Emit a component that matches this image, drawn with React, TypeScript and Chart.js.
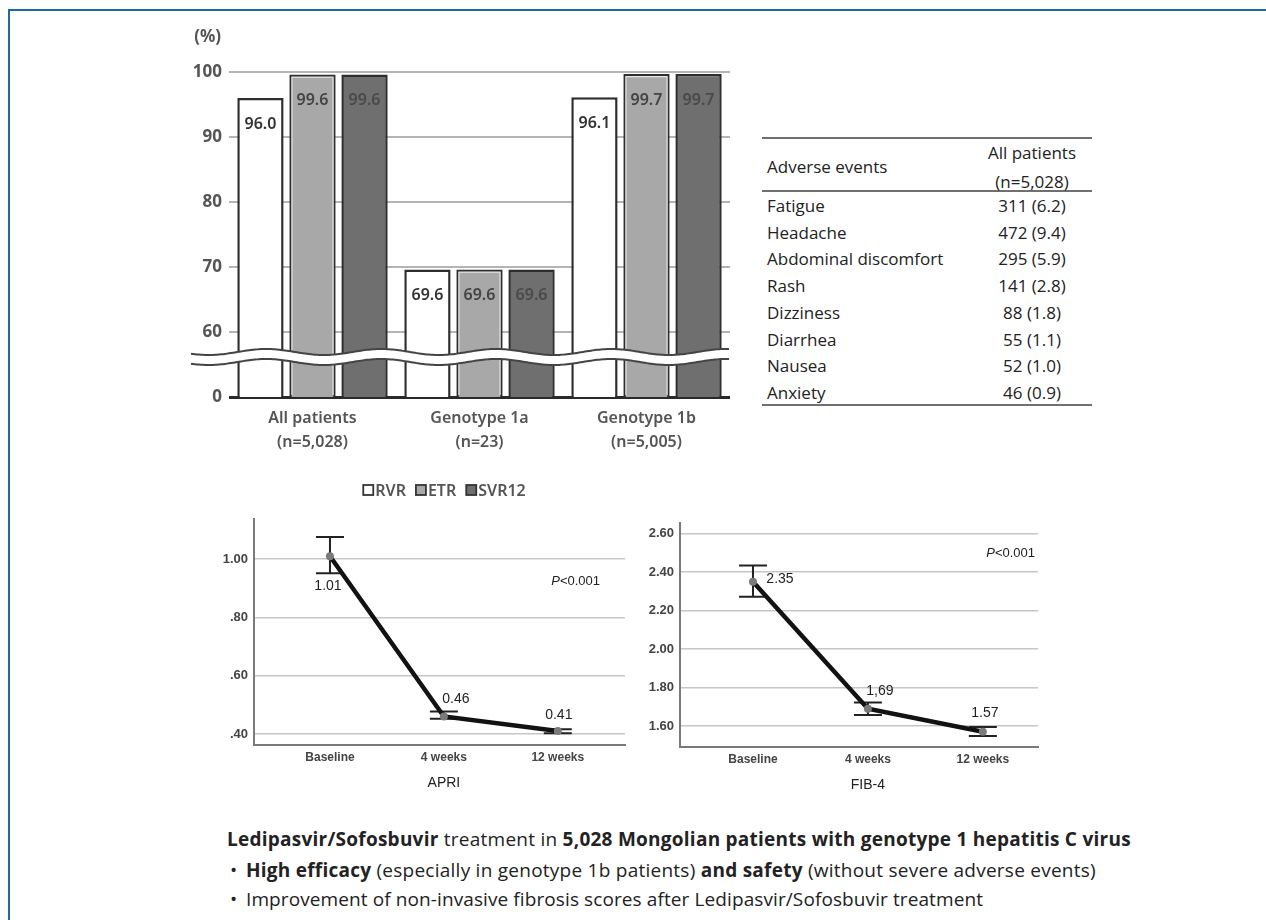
import React, { useEffect, useRef } from "react";
import { Chart, registerables } from "chart.js";
Chart.register(...registerables);

// ---------- data ----------
const groups = [["All patients", "(n=5,028)"], ["Genotype 1a", "(n=23)"], ["Genotype 1b", "(n=5,005)"]];
const seriesNames = ["RVR", "ETR", "SVR12"];
const rvr = [96.0, 69.6, 96.1];
const etr = [99.6, 69.6, 99.7];
const svr12 = [99.6, 69.6, 99.7];
const barTickValues = [50, 60, 70, 80, 90, 100];
const barTickLabels = ["0", "60", "70", "80", "90", "100"];

const aeNames = ["Fatigue", "Headache", "Abdominal discomfort", "Rash", "Dizziness", "Diarrhea", "Nausea", "Anxiety"];
const aeValues = ["311 (6.2)", "472 (9.4)", "295 (5.9)", "141 (2.8)", "88 (1.8)", "55 (1.1)", "52 (1.0)", "46 (0.9)"];

const timepoints = ["Baseline", "4 weeks", "12 weeks"];
const apriMean = [1.01, 0.46, 0.41];
const apriLow = [0.952, 0.452, 0.402];
const apriHigh = [1.076, 0.477, 0.416];
const apriLabels = ["1.01", "0.46", "0.41"];
const apriTicks = [0.4, 0.6, 0.8, 1.0];
const apriTickLabels = [".40", ".60", ".80", "1.00"];

const fibMean = [2.35, 1.69, 1.57];
const fibLow = [2.272, 1.657, 1.548];
const fibHigh = [2.435, 1.723, 1.595];
const fibLabels = ["2.35", "1,69", "1.57"];
const fibTicks = [1.6, 1.8, 2.0, 2.2, 2.4, 2.6];
const fibTickLabels = ["1.60", "1.80", "2.00", "2.20", "2.40", "2.60"];

// ---------- styles ----------
const BAR_FONT = "'Noto Sans', sans-serif";
const LINE_FONT = "'Liberation Sans', Arial, sans-serif";
const TEXT_FONT = "'Open Sans', sans-serif";
const barFills = ["#ffffff", "#a8a8a8", "#6f6f6f"];
const barLabelColors = ["#333333", "#444444", "#4a4a4a"];

const barPlugin = {
  id: "barExtras",
  afterDatasetsDraw(chart: any) {
    const { ctx, chartArea, scales } = chart;
    const y = scales.y;
    const basePx = y.getPixelForValue(50);
    // inner light line on ETR bars
    ctx.save();
    const etrMeta = chart.getDatasetMeta(1);
    ctx.strokeStyle = "#e6e6e6";
    ctx.lineWidth = 1.2;
    etrMeta.data.forEach((el: any) => {
      const w = el.width;
      const left = el.x - w / 2 + 2.6;
      const right = el.x + w / 2 - 2.6;
      const top = el.y + 2.6;
      const bottom = basePx - 2;
      ctx.beginPath();
      ctx.moveTo(left, bottom);
      ctx.lineTo(left, top);
      ctx.lineTo(right, top);
      ctx.lineTo(right, bottom);
      ctx.stroke();
    });
    ctx.restore();
    // axis break
    const y60 = y.getPixelForValue(60);
    const up = y60 + 20;
    const lo = y60 + 30;
    const x0 = chartArea.left - 38;
    const x1 = chartArea.right;
    const W = 115;
    const f = (x: number) => 3 * Math.sin(((x - x0) / W) * 2 * Math.PI + 0.6);
    ctx.save();
    ctx.beginPath();
    for (let x = x0; x <= x1; x += 2) ctx.lineTo(x, up + f(x));
    for (let x = x1; x >= x0; x -= 2) ctx.lineTo(x, lo + f(x));
    ctx.closePath();
    ctx.fillStyle = "#ffffff";
    ctx.fill();
    ctx.strokeStyle = "#444";
    ctx.lineWidth = 2;
    [up, lo].forEach((b) => {
      ctx.beginPath();
      for (let x = x0; x <= x1; x += 2) ctx.lineTo(x, b + f(x));
      ctx.stroke();
    });
    // value labels
    ctx.font = `600 16px ${BAR_FONT}`;
    ctx.textAlign = "center";
    ctx.textBaseline = "middle";
    chart.data.datasets.forEach((ds: any, di: number) => {
      const meta = chart.getDatasetMeta(di);
      meta.data.forEach((el: any, i: number) => {
        ctx.fillStyle = barLabelColors[di];
        ctx.fillText(Number(ds.data[i]).toFixed(1), el.x, el.y + 26);
      });
    });
    ctx.restore();
  },
  afterDraw(chart: any) {
    const { ctx, chartArea } = chart;
    ctx.save();
    // (%) unit
    ctx.font = `bold 17px ${BAR_FONT}`;
    ctx.fillStyle = "#555";
    ctx.textAlign = "right";
    ctx.textBaseline = "middle";
    ctx.fillText("(%)", chartArea.left - 8, 17);
    // legend
    ctx.font = `600 16px ${BAR_FONT}`;
    ctx.textAlign = "left";
    const gap = 10;
    const box = 10;
    const widths = seriesNames.map((n) => box + 2 + ctx.measureText(n).width);
    const total = widths.reduce((a, b) => a + b, 0) + gap * (widths.length - 1);
    let x = (chartArea.left + chartArea.right) / 2 - 35 - total / 2;
    const yy = chartArea.bottom + 93;
    seriesNames.forEach((n, i) => {
      ctx.fillStyle = barFills[i];
      ctx.fillRect(x, yy - box / 2, box, box);
      ctx.strokeStyle = "#333";
      ctx.lineWidth = 1.8;
      ctx.strokeRect(x, yy - box / 2, box, box);
      ctx.fillStyle = "#555";
      ctx.fillText(n, x + box + 2, yy + 1);
      x += widths[i] + gap;
    });
    ctx.restore();
  },
};

function BarChart() {
  const ref = useRef<HTMLCanvasElement>(null);
  useEffect(() => {
    const chart = new Chart(ref.current as HTMLCanvasElement, {
      type: "bar",
      data: {
        labels: groups,
        datasets: [rvr, etr, svr12].map((d, i) => ({
          label: seriesNames[i],
          data: d,
          backgroundColor: barFills[i],
          borderColor: "#2e2e2e",
          borderWidth: 2.5,
          categoryPercentage: 0.935,
          barPercentage: 0.89,
        })),
      },
      options: {
        animation: false,
        responsive: false,
        layout: { padding: { top: 52, right: 10, left: 0, bottom: 0 } },
        plugins: { legend: { display: false }, tooltip: { enabled: false } },
        scales: {
          x: {
            grid: { display: false, drawTicks: false },
            border: { display: false },
            ticks: { font: { family: BAR_FONT, size: 16, weight: "600", lineHeight: 1.5 }, color: "#555", padding: 9 },
            afterFit: (s: any) => { s.height = 103; },
          },
          y: {
            min: 50,
            max: 100,
            afterBuildTicks: (s: any) => { s.ticks = barTickValues.map((v) => ({ value: v })); },
            ticks: {
              callback: (_v: any, i: number) => barTickLabels[i],
              font: { family: BAR_FONT, size: 17, weight: "bold" },
              color: "#555",
              padding: 7,
            },
            grid: {
              drawTicks: false,
              color: (c: any) => (c.tick && c.tick.value === 50 ? "#2a2a2a" : "#b4b4b4"),
              lineWidth: (c: any) => (c.tick && c.tick.value === 50 ? 3 : 2),
            },
            border: { display: false },
            afterFit: (s: any) => { s.width = 79; },
          },
        },
      } as any,
      plugins: [barPlugin],
    });
    return () => chart.destroy();
  }, []);
  return <canvas ref={ref} width={590} height={480} style={{ position: "absolute", left: 150, top: 20 }} />;
}

type LineCfg = {
  mean: number[]; low: number[]; high: number[]; labels: string[];
  ticks: number[]; tickLabels: string[]; ymin: number; ymax: number;
  xmin: number; xmax: number; title: string;
  labelOffsets: number[][]; pOffset: number[];
  yWidth: number; padTop: number; padRight: number; xHeight: number;
};

function makeLinePlugin(c: LineCfg) {
  return {
    id: "lineExtras",
    beforeDatasetsDraw(chart: any) {
      const { ctx, scales } = chart;
      ctx.save();
      ctx.strokeStyle = "#222";
      ctx.lineWidth = 2;
      c.mean.forEach((_m, i) => {
        const x = scales.x.getPixelForValue(i);
        const yl = scales.y.getPixelForValue(c.low[i]);
        const yh = scales.y.getPixelForValue(c.high[i]);
        ctx.beginPath();
        ctx.moveTo(x, yl); ctx.lineTo(x, yh);
        ctx.moveTo(x - 14, yl); ctx.lineTo(x + 14, yl);
        ctx.moveTo(x - 14, yh); ctx.lineTo(x + 14, yh);
        ctx.stroke();
      });
      ctx.restore();
    },
    afterDatasetsDraw(chart: any) {
      const { ctx, scales, chartArea } = chart;
      ctx.save();
      ctx.font = `14px ${LINE_FONT}`;
      ctx.fillStyle = "#222";
      ctx.textAlign = "center";
      ctx.textBaseline = "middle";
      c.mean.forEach((m, i) => {
        const x = scales.x.getPixelForValue(i);
        const y = scales.y.getPixelForValue(m);
        ctx.fillText(c.labels[i], x + c.labelOffsets[i][0], y + c.labelOffsets[i][1]);
      });
      // P value
      const px = chartArea.right + c.pOffset[0];
      const py = chartArea.top + c.pOffset[1];
      ctx.font = `13px ${LINE_FONT}`;
      ctx.textAlign = "right";
      ctx.fillText("<0.001", px, py);
      const w = ctx.measureText("<0.001").width;
      ctx.font = `italic 13px ${LINE_FONT}`;
      ctx.fillText("P", px - w, py);
      // axis title
      ctx.font = `14px ${LINE_FONT}`;
      ctx.textAlign = "center";
      ctx.fillText(c.title, scales.x.getPixelForValue(1), chartArea.bottom + 38);
      ctx.restore();
    },
  };
}

function LineChart({ cfg, left, top, width, height }: { cfg: LineCfg; left: number; top: number; width: number; height: number }) {
  const ref = useRef<HTMLCanvasElement>(null);
  useEffect(() => {
    const chart = new Chart(ref.current as HTMLCanvasElement, {
      type: "line",
      data: {
        datasets: [
          {
            data: cfg.mean.map((v, i) => ({ x: i, y: v })),
            borderColor: "#121212",
            borderWidth: 4.5,
            pointRadius: 4,
            pointBackgroundColor: "#7a7a7a",
            pointBorderWidth: 0,
            tension: 0,
          },
        ],
      },
      options: {
        animation: false,
        responsive: false,
        layout: { padding: { top: cfg.padTop, right: cfg.padRight, left: 0, bottom: 0 } },
        plugins: { legend: { display: false }, tooltip: { enabled: false } },
        scales: {
          x: {
            type: "linear",
            min: cfg.xmin,
            max: cfg.xmax,
            afterBuildTicks: (s: any) => { s.ticks = timepoints.map((_t, i) => ({ value: i })); },
            ticks: {
              callback: (_v: any, i: number) => timepoints[i],
              font: { family: LINE_FONT, size: 12, weight: "bold" },
              color: "#444",
              padding: 5,
              maxRotation: 0,
            },
            grid: { display: false, drawTicks: false },
            border: { display: true, color: "#7a7a7a", width: 2 },
            afterFit: (s: any) => { s.height = cfg.xHeight; },
          },
          y: {
            min: cfg.ymin,
            max: cfg.ymax,
            afterBuildTicks: (s: any) => { s.ticks = cfg.ticks.map((v) => ({ value: v })); },
            ticks: {
              callback: (_v: any, i: number) => cfg.tickLabels[i],
              font: { family: LINE_FONT, size: 13, weight: "bold" },
              color: "#444",
              padding: 6,
            },
            grid: { color: "#c6c6c6", lineWidth: 1.5, drawTicks: false },
            border: { display: true, color: "#7a7a7a", width: 2 },
            afterFit: (s: any) => { s.width = cfg.yWidth; },
          },
        },
      } as any,
      plugins: [makeLinePlugin(cfg)],
    });
    return () => chart.destroy();
  }, []);
  return <canvas ref={ref} width={width} height={height} style={{ position: "absolute", left, top }} />;
}

const apriCfg: LineCfg = {
  mean: apriMean, low: apriLow, high: apriHigh, labels: apriLabels,
  ticks: apriTicks, tickLabels: apriTickLabels, ymin: 0.362, ymax: 1.138,
  xmin: -0.667, xmax: 2.59, title: "APRI",
  labelOffsets: [[-2, 30], [12, -17], [1, -16]], pOffset: [-25, 62],
  yWidth: 54, padTop: 14, padRight: 15, xHeight: 60,
};
const fibCfg: LineCfg = {
  mean: fibMean, low: fibLow, high: fibHigh, labels: fibLabels,
  ticks: fibTicks, tickLabels: fibTickLabels, ymin: 1.491, ymax: 2.656,
  xmin: -0.635, xmax: 2.48, title: "FIB-4",
  labelOffsets: [[27, -3], [12, -18], [2, -19]], pOffset: [-3, 30],
  yWidth: 60, padTop: 18, padRight: 12, xHeight: 58,
};

function T({ x, y, children, align = "left", size = 17, color = "#222", font = TEXT_FONT, spacing = 0 }: any) {
  const lh = Math.round(size * 1.3);
  const style: any = {
    position: "absolute",
    top: y - lh / 2,
    lineHeight: lh + "px",
    fontSize: size,
    fontFamily: font,
    fontWeight: 400,
    color,
    whiteSpace: "nowrap",
    letterSpacing: spacing,
  };
  if (align === "center") { style.left = x; style.transform = "translateX(-50%)"; }
  else style.left = x;
  return <div style={style}>{children}</div>;
}

export default function App() {
  const rowY0 = 206;
  const rowH = 26.7;
  return (
    <div style={{ position: "absolute", left: 0, top: 0, width: 1266, height: 920, background: "#fff", overflow: "hidden" }}>
      <div style={{ position: "absolute", left: 8, top: 9, width: 1270, height: 920, borderTop: "2px solid #1c6aa3", borderLeft: "2px solid #1c6aa3" }} />
      <BarChart />
      {/* table */}
      <div style={{ position: "absolute", left: 762, top: 137, width: 330, height: 2, background: "#707070" }} />
      <div style={{ position: "absolute", left: 762, top: 190, width: 330, height: 2, background: "#707070" }} />
      <div style={{ position: "absolute", left: 762, top: 404, width: 330, height: 2, background: "#707070" }} />
      <T x={767} y={166.7}>Adverse events</T>
      <T x={1032} y={153} align="center">All patients</T>
      <T x={1032} y={181.7} align="center">(n=5,028)</T>
      {aeNames.map((n, i) => (
        <React.Fragment key={n}>
          <T x={767} y={rowY0 + i * rowH}>{n}</T>
          <T x={1032} y={rowY0 + i * rowH} align="center">{aeValues[i]}</T>
        </React.Fragment>
      ))}
      <LineChart cfg={apriCfg} left={200} top={505} width={440} height={300} />
      <LineChart cfg={fibCfg} left={620} top={505} width={430} height={300} />
      {/* summary text */}
      <T x={227} y={839} size={19} spacing={0.25}>
        <b>Ledipasvir/Sofosbuvir</b> treatment in <b>5,028 Mongolian patients with genotype 1 hepatitis C virus</b>
      </T>
      <T x={230} y={870} size={19}>•</T>
      <T x={246} y={870} size={19} spacing={0.25}>
        <b>High efficacy</b> (especially in genotype 1b patients) <b>and safety</b> (without severe adverse events)
      </T>
      <T x={230} y={899} size={19}>•</T>
      <T x={246} y={899} size={19} spacing={0.1}>Improvement of non-invasive fibrosis scores after Ledipasvir/Sofosbuvir treatment</T>
    </div>
  );
}
